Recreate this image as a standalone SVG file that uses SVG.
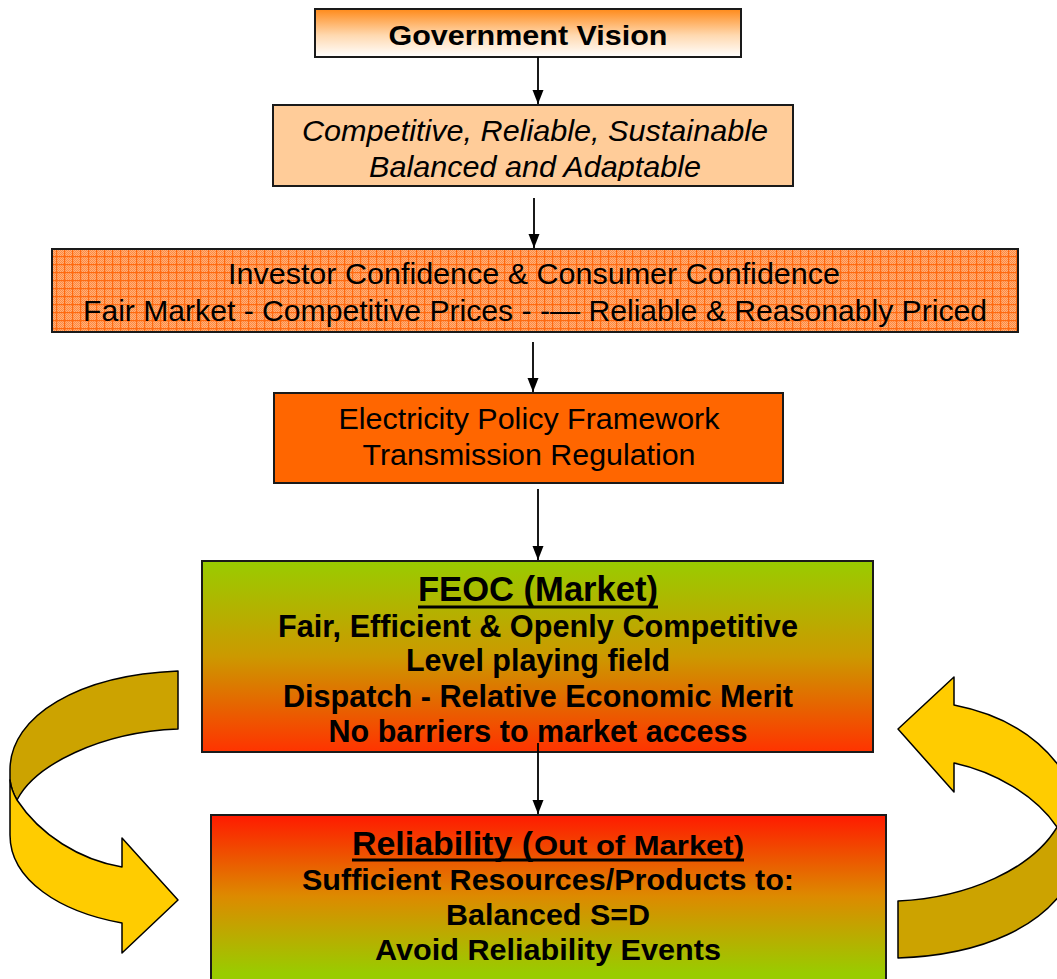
<svg xmlns="http://www.w3.org/2000/svg" width="1057" height="979" viewBox="0 0 1057 979">
<style>
.box{stroke:#1a1a1a;stroke-width:2}
.t{font-family:"Liberation Sans",Arial,sans-serif;fill:#000;text-anchor:middle}
.b{font-weight:bold}
.i{font-style:italic}
.conn{stroke:#000;stroke-width:1.8;fill:none;marker-end:url(#ah)}
.back{fill:#CCA300;stroke:#000;stroke-width:1.5;stroke-linejoin:round}
.front{fill:#FFCC00;stroke:#000;stroke-width:1.5;stroke-linejoin:round}
.ul{stroke:#000;stroke-width:3}
</style>
<defs>
<marker id="ah" markerUnits="userSpaceOnUse" viewBox="0 -6 14 12" refX="14" refY="0" markerWidth="14" markerHeight="12" orient="auto">
<path d="M0,-5.5 L14,0 L0,5.5 Z" fill="#000"/>
</marker>
<linearGradient id="g1" x1="0" y1="0" x2="0" y2="1">
<stop offset="0" stop-color="#FF8A1A"/>
<stop offset="0.55" stop-color="#FFD9B0"/>
<stop offset="1" stop-color="#FFFFFF"/>
</linearGradient>
<linearGradient id="g5" x1="0" y1="0" x2="0" y2="1">
<stop offset="0" stop-color="#99CC00"/>
<stop offset="0.5" stop-color="#CC9900"/>
<stop offset="1" stop-color="#FF3300"/>
</linearGradient>
<linearGradient id="g6" x1="0" y1="0" x2="0" y2="1">
<stop offset="0" stop-color="#FF1A00"/>
<stop offset="0.45" stop-color="#DD8A00"/>
<stop offset="0.88" stop-color="#99CC00"/>
<stop offset="1" stop-color="#99CC00"/>
</linearGradient>
<pattern id="chk" width="2" height="2" patternUnits="userSpaceOnUse">
<rect width="2" height="2" fill="#FFB07A"/>
<rect width="1" height="1" fill="#FF8A40"/>
<rect x="1" y="1" width="1" height="1" fill="#FF8A40"/>
</pattern>
<pattern id="grid" width="8" height="8" patternUnits="userSpaceOnUse">
<rect width="8" height="8" fill="url(#chk)"/>
<rect width="8" height="1.2" fill="#FF6A10"/>
<rect width="1.2" height="8" fill="#FF6A10"/>
</pattern>
<clipPath id="c2"><rect x="273" y="105" width="520" height="76"/></clipPath>
</defs>

<g id="leftArrow">
<path class="back" d="M178,671 L178,729 C100,732 35,765 17,800 C14,795 11,788 10,780 L10,770 C10,715 80,675 178,671 Z"/>
<path class="front" d="M10,780 C11,788 14,795 17,800 C40,835 80,860 122,867 L122,838 L178,900 L122,953 L122,923 C60,912 10,880 10,835 Z"/>
</g>
<g id="rightArrow">
<path class="back" d="M1060,822 C1035,870 965,898 898,901 L898,958 C985,955 1045,925 1070,880 L1070,822 Z"/>
<path class="front" d="M954,705 L954,677 L898,729 L954,792 L954,763 C995,772 1035,795 1057,827 L1068,827 L1068,780 C1045,740 1005,715 954,705 Z"/>
</g>

<g id="vision">
<rect class="box" x="315" y="9" width="426" height="48" fill="url(#g1)"/>
<text class="t b" x="528" y="45" font-size="28" textLength="279" lengthAdjust="spacingAndGlyphs">Government Vision</text>
</g>

<g id="values">
<rect class="box" x="273" y="105" width="520" height="81" fill="#FFCC99"/>
<g clip-path="url(#c2)">
<text class="t i" x="535" y="141" font-size="29" textLength="466" lengthAdjust="spacingAndGlyphs">Competitive, Reliable, Sustainable</text>
<text class="t i" x="535" y="177" font-size="29" textLength="332" lengthAdjust="spacingAndGlyphs">Balanced and Adaptable</text>
</g>
</g>

<g id="confidence">
<rect class="box" x="52" y="249" width="966" height="83" fill="url(#grid)"/>
<text class="t" x="534" y="284" font-size="29" textLength="612" lengthAdjust="spacingAndGlyphs">Investor Confidence &amp; Consumer Confidence</text>
<text class="t" x="535" y="321" font-size="29" textLength="904" lengthAdjust="spacingAndGlyphs">Fair Market - Competitive Prices - -— Reliable &amp; Reasonably Priced</text>
</g>

<g id="policy">
<rect class="box" x="274" y="393" width="509" height="90" fill="#FF6600"/>
<text class="t" x="529" y="429" font-size="29" textLength="381" lengthAdjust="spacingAndGlyphs">Electricity Policy Framework</text>
<text class="t" x="529" y="465" font-size="29" textLength="333" lengthAdjust="spacingAndGlyphs">Transmission Regulation</text>
</g>

<g id="feoc">
<rect class="box" x="202" y="561" width="671" height="191" fill="url(#g5)"/>
<text class="t b" x="538" y="601" font-size="35" textLength="240" lengthAdjust="spacingAndGlyphs">FEOC (Market)</text>
<line class="ul" x1="418" y1="607" x2="658" y2="607"/>
<text class="t b" x="538" y="637" font-size="31" textLength="520" lengthAdjust="spacingAndGlyphs">Fair, Efficient &amp; Openly Competitive</text>
<text class="t b" x="538" y="671" font-size="31" textLength="264" lengthAdjust="spacingAndGlyphs">Level playing field</text>
<text class="t b" x="538" y="707" font-size="31" textLength="510" lengthAdjust="spacingAndGlyphs">Dispatch - Relative Economic Merit</text>
<text class="t b" x="538" y="742" font-size="31" textLength="419" lengthAdjust="spacingAndGlyphs">No barriers to market access</text>
</g>

<g id="reliability">
<rect class="box" x="211" y="815" width="675" height="180" fill="url(#g6)"/>
<text class="b" x="352" y="855" font-family="Liberation Sans, Arial, sans-serif" font-size="34" textLength="181" lengthAdjust="spacingAndGlyphs">Reliability (</text>
<text class="b" x="534" y="855" font-family="Liberation Sans, Arial, sans-serif" font-size="27" textLength="210" lengthAdjust="spacingAndGlyphs">Out of Market)</text>
<line class="ul" x1="352" y1="860" x2="744" y2="860"/>
<text class="t b" x="548" y="890" font-size="30" textLength="492" lengthAdjust="spacingAndGlyphs">Sufficient Resources/Products to:</text>
<text class="t b" x="548" y="925" font-size="30" textLength="204" lengthAdjust="spacingAndGlyphs">Balanced S=D</text>
<text class="t b" x="548" y="960" font-size="30" textLength="346" lengthAdjust="spacingAndGlyphs">Avoid Reliability Events</text>
</g>

<g id="connectors">
<line class="conn" x1="538" y1="57" x2="538" y2="104"/>
<line class="conn" x1="534" y1="198" x2="534" y2="248"/>
<line class="conn" x1="533" y1="342" x2="533" y2="392"/>
<line class="conn" x1="538" y1="489" x2="538" y2="560"/>
<line class="conn" x1="538" y1="743" x2="538" y2="814"/>
</g>
</svg>
